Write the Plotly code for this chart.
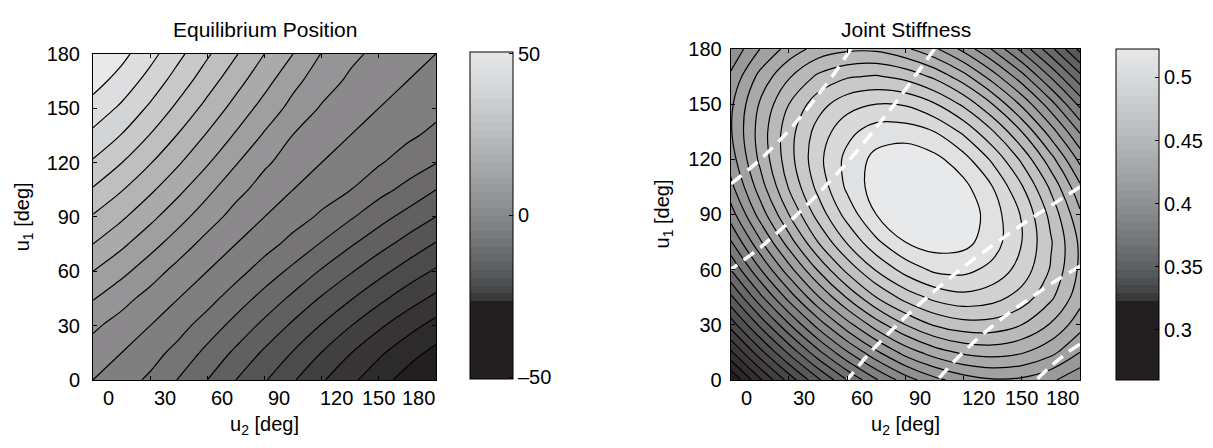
import plotly.graph_objects as go

# ---------------- data ----------------
# grid positions of both motor angles [deg]
U2_DEG = [0, 15, 30, 45, 60, 75, 90, 105, 120, 135, 150, 165, 180]
U1_DEG = [0, 15, 30, 45, 60, 75, 90, 105, 120, 135, 150, 165, 180]

# equilibrium position [deg]; rows follow U1_DEG, columns follow U2_DEG
EQ_POS = [
    [0, -2.8, -5.9, -10.3, -15, -20, -24.5, -29.5, -34.4, -38.8, -43.1, -46.9, -50.5],
    [2.8, 0, -3, -6.7, -11.3, -16, -20.8, -25.3, -30.1, -34.8, -39.1, -43.1, -46.4],
    [5.9, 3, 0, -3.2, -7.3, -11.7, -16.3, -20.9, -25.3, -29.8, -34.1, -38.1, -41.7],
    [10.3, 6.7, 3.2, 0, -3.2, -7.5, -11.7, -16.1, -20.5, -24.6, -28.7, -32.6, -36.2],
    [15, 11.3, 7.3, 3.2, 0, -3.2, -7.3, -11.2, -15.5, -19.5, -23.4, -27.2, -30.7],
    [20, 16, 11.7, 7.5, 3.2, 0, -3.1, -6.6, -10.4, -14.4, -18.2, -21.8, -25.4],
    [24.5, 20.8, 16.3, 11.7, 7.3, 3.1, 0, -2.9, -5.8, -9.4, -13.1, -16.7, -20],
    [29.5, 25.3, 20.9, 16.1, 11.2, 6.6, 2.9, 0, -2.7, -4.9, -8.4, -11.4, -15],
    [34.4, 30.1, 25.3, 20.5, 15.5, 10.4, 5.8, 2.7, 0, -2.5, -4.5, -7.3, -9.8],
    [38.8, 34.8, 29.8, 24.6, 19.5, 14.4, 9.4, 4.9, 2.5, 0, -2.3, -4.1, -6.2],
    [43.1, 39.1, 34.1, 28.7, 23.4, 18.2, 13.1, 8.4, 4.5, 2.3, 0, -2.1, -3.7],
    [46.9, 43.1, 38.1, 32.6, 27.2, 21.8, 16.7, 11.4, 7.3, 4.1, 2.1, 0, -1.9],
    [50.5, 46.4, 41.7, 36.2, 30.7, 25.4, 20, 15, 9.8, 6.2, 3.7, 1.9, 0],
]

# joint stiffness; rows follow U1_DEG, columns follow U2_DEG
STIFFNESS = [
    [0.260, 0.288, 0.314, 0.338, 0.360, 0.379, 0.395, 0.407, 0.415, 0.419, 0.418, 0.412, 0.402],
    [0.288, 0.316, 0.342, 0.367, 0.389, 0.408, 0.424, 0.435, 0.442, 0.444, 0.441, 0.433, 0.420],
    [0.314, 0.342, 0.369, 0.394, 0.416, 0.435, 0.450, 0.461, 0.466, 0.466, 0.460, 0.449, 0.434],
    [0.338, 0.367, 0.394, 0.419, 0.441, 0.460, 0.474, 0.483, 0.487, 0.484, 0.476, 0.462, 0.444],
    [0.360, 0.389, 0.416, 0.441, 0.463, 0.481, 0.494, 0.502, 0.503, 0.497, 0.486, 0.469, 0.448],
    [0.379, 0.408, 0.435, 0.460, 0.481, 0.498, 0.510, 0.515, 0.513, 0.505, 0.490, 0.471, 0.448],
    [0.395, 0.424, 0.450, 0.474, 0.494, 0.510, 0.519, 0.521, 0.517, 0.505, 0.489, 0.467, 0.442],
    [0.407, 0.435, 0.461, 0.483, 0.502, 0.515, 0.521, 0.521, 0.513, 0.500, 0.481, 0.458, 0.432],
    [0.415, 0.442, 0.466, 0.487, 0.503, 0.513, 0.517, 0.513, 0.504, 0.488, 0.468, 0.444, 0.417],
    [0.419, 0.444, 0.466, 0.484, 0.497, 0.505, 0.505, 0.500, 0.488, 0.471, 0.450, 0.425, 0.399],
    [0.418, 0.441, 0.460, 0.476, 0.486, 0.490, 0.489, 0.481, 0.468, 0.450, 0.428, 0.404, 0.377],
    [0.412, 0.433, 0.449, 0.462, 0.469, 0.471, 0.467, 0.458, 0.444, 0.425, 0.404, 0.379, 0.353],
    [0.402, 0.420, 0.434, 0.444, 0.448, 0.448, 0.442, 0.432, 0.417, 0.399, 0.377, 0.353, 0.327],
]

# contour levels
EQ_LEVELS = dict(start=-45, end=45.01, size=5)
K_LEVELS = dict(start=0.27, end=0.5105, size=0.01)
EQ_DASHED_NEG = dict(start=-45, end=-14.99, size=15)
EQ_DASHED_POS = dict(start=15, end=30.01, size=15)

# colour-bar ranges and ticks
EQ_CRANGE = [-50.5, 50.5]
EQ_CTICKS = [-50, 0, 50]
EQ_CTEXT = ["\u201350", "0", "50"]
K_CRANGE = [0.26, 0.5226]
K_CTICKS = [0.3, 0.35, 0.4, 0.45, 0.5]
K_CTEXT = ["0.3", "0.35", "0.4", "0.45", "0.5"]

# axis ticks and where their labels sit (label positions as printed in the reference)
TICKS = [0, 30, 60, 90, 120, 150, 180]
TICK_TEXT = ["0", "30", "60", "90", "120", "150", "180"]
TICK_LABEL_POS = [8, 37.8, 67.5, 97.8, 127.8, 150, 171]

# ---------------- styling ----------------
FONT = "Liberation Sans, Arial, sans-serif"
W, H = 1213, 448
DARK = "rgb(35,31,32)"
LIGHT = "rgb(232,233,235)"
FILL_SCALE = [[0, DARK], [1, LIGHT]]


def px_x(p):
    return p / W


def px_y(p):
    return 1 - p / H


def stepped_scale():
    dark_frac = 0.238
    nsteps = 32
    sc = [[0.0, DARK], [dark_frac, DARK]]
    for k in range(nsteps):
        g = 48 + 184 * ((k + 0.5) / nsteps) ** 0.69
        col = "rgb(%d,%d,%d)" % (round(g - 1), round(g), round(g + 2))
        f0 = dark_frac + (1 - dark_frac) * k / nsteps
        f1 = dark_frac + (1 - dark_frac) * (k + 1) / nsteps
        sc.append([f0, col])
        sc.append([f1, col])
    return sc


fig = go.Figure()
fig.add_trace(go.Contour(x=U2_DEG, y=U1_DEG, z=EQ_POS, xaxis="x", yaxis="y", colorscale=FILL_SCALE,
                         contours=dict(coloring="fill", **EQ_LEVELS),
                         line=dict(color="black", width=1.2, smoothing=1), showscale=False,
                         hoverinfo="skip"))
fig.add_trace(go.Contour(x=U2_DEG, y=U1_DEG, z=STIFFNESS, xaxis="x2", yaxis="y2", colorscale=FILL_SCALE,
                         contours=dict(coloring="fill", **K_LEVELS),
                         line=dict(color="black", width=1.2, smoothing=1), showscale=False,
                         hoverinfo="skip"))
for lv in [EQ_DASHED_NEG, EQ_DASHED_POS]:
    fig.add_trace(go.Contour(x=U2_DEG, y=U1_DEG, z=EQ_POS, xaxis="x2", yaxis="y2",
                             contours=dict(coloring="none", **lv),
                             line=dict(color="white", width=3.5, dash="13px,8px", smoothing=1),
                             showscale=False, hoverinfo="skip"))

cb_common = dict(thickness=43, thicknessmode="pixels", lenmode="fraction", outlinewidth=1,
                 outlinecolor="black", ticks="inside", ticklen=4, tickcolor="black",
                 tickfont=dict(size=20, family=FONT, color="black"), xanchor="left",
                 yanchor="middle", xpad=0, ypad=0)
fig.add_trace(go.Scatter(x=[0, 0], y=[0, 0], mode="markers", xaxis="x", yaxis="y", hoverinfo="skip",
                         marker=dict(size=1, opacity=0, color=EQ_CRANGE, cmin=EQ_CRANGE[0],
                                     cmax=EQ_CRANGE[1], colorscale=stepped_scale(), showscale=True,
                                     colorbar=dict(x=px_x(470), y=px_y(215), len=343.4 / H,
                                                   tickvals=EQ_CTICKS, ticktext=EQ_CTEXT, **cb_common)),
                         showlegend=False))
fig.add_trace(go.Scatter(x=[0, 0], y=[0, 0], mode="markers", xaxis="x2", yaxis="y2", hoverinfo="skip",
                         marker=dict(size=1, opacity=0, color=K_CRANGE, cmin=K_CRANGE[0],
                                     cmax=K_CRANGE[1], colorscale=stepped_scale(), showscale=True,
                                     colorbar=dict(x=px_x(1116), y=px_y(214), len=348.3 / H,
                                                   tickvals=K_CTICKS, ticktext=K_CTEXT, **cb_common)),
                         showlegend=False))

ax_common = dict(range=[0, 180], showline=True, mirror="allticks", linecolor="black", linewidth=1,
                 ticks="inside", ticklen=4, tickcolor="black", tickvals=TICKS, ticktext=TICK_TEXT,
                 showgrid=False, zeroline=False, tickfont=dict(size=20, family=FONT, color="black"))
fig.update_layout(
    width=W, height=H, margin=dict(l=0, r=0, t=0, b=0), paper_bgcolor="white", plot_bgcolor="white",
    showlegend=False, font=dict(family=FONT, color="black"),
    xaxis=dict(domain=[px_x(93), px_x(436)], anchor="y", showticklabels=False, **ax_common),
    yaxis=dict(domain=[px_y(388), px_y(45)], anchor="x", ticklabelstandoff=8, **ax_common),
    xaxis2=dict(domain=[px_x(730.7), px_x(1080)], anchor="y2", showticklabels=False, **ax_common),
    yaxis2=dict(domain=[px_y(388), px_y(40)], anchor="x2", ticklabelstandoff=4, **ax_common),
)

ann = []
for xr in ["x", "x2"]:
    for txt, p in zip(TICK_TEXT, TICK_LABEL_POS):
        ann.append(dict(x=p, y=px_y(407), xref=xr, yref="paper", text=txt, showarrow=False,
                        xanchor="center", yanchor="middle", font=dict(size=20, family=FONT)))
for cx, cy, txt in [(264.5, 19, "Equilibrium Position"), (905.5, 19, "Joint Stiffness")]:
    ann.append(dict(x=px_x(cx), y=px_y(cy), xref="paper", yref="paper", text=txt, showarrow=False,
                    xanchor="center", yanchor="middle", font=dict(size=21, family=FONT)))
for cx in [264.5, 905.5]:
    ann.append(dict(x=px_x(cx), y=px_y(436), xref="paper", yref="paper", text="u<sub>2</sub> [deg]",
                    showarrow=False, xanchor="center", yanchor="middle", font=dict(size=20, family=FONT)))
for cx, cy in [(23, 217), (663, 214)]:
    ann.append(dict(x=px_x(cx), y=px_y(cy), xref="paper", yref="paper", text="u<sub>1</sub> [deg]",
                    showarrow=False, textangle=-90, xanchor="center", yanchor="middle",
                    font=dict(size=20, family=FONT)))
fig.update_layout(annotations=ann)
fig.write_html("out.html")
